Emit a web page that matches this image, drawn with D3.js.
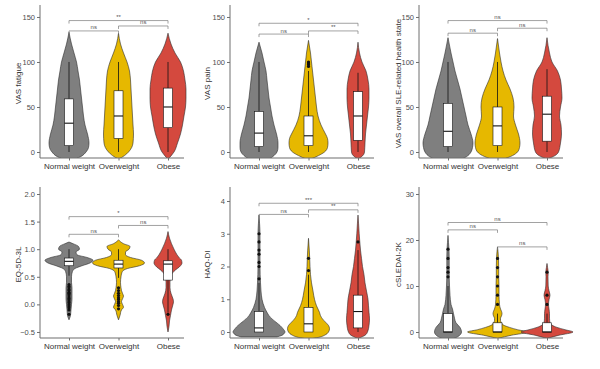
<!DOCTYPE html>
<html><head><meta charset="utf-8">
<script src="https://cdn.jsdelivr.net/npm/d3@7"></script>
<style>
html,body{margin:0;padding:0;background:#fff;}
svg{display:block;font-family:"Liberation Sans",Arial,sans-serif;}
</style></head>
<body><svg id="chart" width="600" height="369"></svg>
<script>
// ---------------- DATA ----------------
const categories = ["Normal weight", "Overweight", "Obese"];
const groupColors = ["#7f7f7f", "#E6B800", "#D4493E"];

// boxes: [lowerWhisker, q1, median, q3, upperWhisker]
// violins: [value, relative density] profiles
// brackets: [fromIndex, toIndex, level, label]

// VAS fatigue
const fatigueTicks = [0, 50, 100, 150];
const fatigueBoxes = [[0, 7, 32, 59, 100], [0, 15, 40, 68, 100], [0, 27, 50, 71, 100]];
const fatigueViolins = [
  [[-8,6],[-5,12],[0,17],[5,19.5],[10,20],[20,18.5],[30,16],[40,14.5],[50,13.5],[60,12.5],[70,11.5],[80,10.5],[90,9],[100,7.5],[110,5],[120,2.5],[133,0]],
  [[-8,0],[-4,6],[0,10],[10,14.5],[20,15],[30,14.5],[40,14],[50,13.5],[60,13],[70,12.5],[80,12],[90,11],[100,8.5],[110,5],[120,2],[132,0]],
  [[-8,0],[-3,4],[0,6],[10,9.5],[20,12.5],[30,14.5],[40,16],[50,17.5],[60,18],[70,18],[80,17],[90,15.5],[100,12.5],[110,7],[120,3],[132,0]]
];
const fatigueOutliers = [[], [], []];
const fatigueBrackets = [[0, 2, 146, "**"], [0, 1, 134.5, "ns"], [1, 2, 140, "ns"]];

// VAS pain
const painTicks = [0, 50, 100, 150];
const painBoxes = [[0, 6, 21, 45, 100], [0, 7, 18, 40, 90], [0, 13, 40, 67, 88]];
const painViolins = [
  [[-8,10],[-4,15],[0,18],[5,19],[10,19],[20,17.5],[30,15],[40,13],[50,11.5],[60,10],[70,9],[80,8],[90,7],[100,5],[110,3],[122,0]],
  [[-8,2],[-4,10],[0,16],[5,19],[10,19.5],[15,19],[20,17],[30,12.5],[40,9.5],[50,8],[60,7],[70,6],[80,5],[90,4],[95,3.5],[100,3],[110,2],[124,0]],
  [[-8,0],[-3,5.5],[0,6.5],[10,7],[20,7.5],[30,8.5],[40,9.5],[50,10.5],[60,11],[70,11],[80,10],[90,8],[100,4],[110,1.5],[122,0]]
];
const painOutliers = [[], [95, 97, 99, 100], []];
const painBrackets = [[0, 2, 143, "*"], [0, 1, 131, "ns"], [1, 2, 134.5, "**"]];

// VAS overall SLE-related health state
const overallTicks = [0, 50, 100, 150];
const overallBoxes = [[0, 6, 23, 54, 100], [0, 7, 29, 50, 100], [0, 12, 42, 62, 92]];
const overallViolins = [
  [[-8,14],[-4,20],[0,23],[5,24.5],[10,25],[20,23],[30,20],[40,18],[50,16],[60,14],[70,12],[80,9.5],[90,7],[100,5],[110,3],[127,0]],
  [[-8,6],[-4,15],[0,20],[5,22],[10,22.5],[20,21],[30,18],[40,16],[50,16.5],[60,15.5],[70,12.5],[80,8.5],[90,5.5],[100,3.5],[110,2],[126,0]],
  [[-8,0],[-4,8],[0,11.5],[10,13.5],[20,14.5],[30,14],[40,12.5],[50,13.5],[60,15],[70,14.5],[80,13.5],[90,10.5],[100,5],[110,2.5],[127,0]]
];
const overallOutliers = [[], [], []];
const overallBrackets = [[0, 2, 146, "ns"], [0, 1, 132, "ns"], [1, 2, 137.5, "ns"]];

// EQ-5D-3L
const eqTicks = [-0.5, 0.0, 0.5, 1.0, 1.5, 2.0];
const eqBoxes = [[0.52, 0.70, 0.78, 0.84, 1.0], [0.48, 0.66, 0.73, 0.80, 1.0], [-0.15, 0.44, 0.73, 0.79, 1.0]];
const eqViolins = [
  [[-0.28,0],[-0.2,1.5],[-0.1,2],[0,2.5],[0.1,3],[0.2,3],[0.3,3],[0.4,2.5],[0.5,2.5],[0.6,3.5],[0.65,6],[0.7,13],[0.75,21],[0.8,24],[0.85,18],[0.9,8],[0.95,7],[1.0,10.5],[1.05,9.5],[1.1,4],[1.13,0]],
  [[-0.28,0],[-0.2,1.5],[-0.1,3],[-0.05,5],[0,4],[0.05,3],[0.1,4],[0.15,5],[0.2,4],[0.25,3],[0.3,2.5],[0.4,2],[0.5,2.5],[0.6,4],[0.65,9],[0.7,21],[0.75,26],[0.8,23],[0.85,12],[0.9,7],[0.95,7],[1.0,10.5],[1.05,11.5],[1.1,5],[1.17,0]],
  [[-0.5,0],[-0.4,1],[-0.3,1.5],[-0.2,2.5],[-0.1,3.5],[0,5],[0.05,5.5],[0.1,5],[0.15,4],[0.2,3],[0.3,2],[0.4,2],[0.5,2.5],[0.6,6],[0.7,12.5],[0.75,14],[0.8,13.5],[0.85,11],[0.9,9],[1.0,6],[1.1,3.5],[1.2,1.5],[1.32,0]]
];
const eqOutliers = [
  [0.36, 0.33, 0.30, 0.27, 0.25, 0.22, 0.20, 0.18, 0.15, 0.12, 0.10, 0.08, 0.05, 0.03, 0.0, -0.03, -0.06, -0.1, -0.18],
  [0.30, 0.25, 0.20, 0.16, 0.12, 0.09, 0.05, 0.02, -0.02, -0.08],
  [-0.18]
];
const eqBrackets = [[0, 2, 1.59, "*"], [0, 1, 1.27, "ns"], [1, 2, 1.43, "ns"]];

// HAQ-DI
const haqTicks = [0, 1, 2, 3, 4];
const haqBoxes = [[0, 0, 0.125, 0.625, 1.5], [0, 0, 0.25, 0.75, 1.75], [0, 0.125, 0.625, 1.125, 2.5]];
const haqViolins = [
  [[-0.15,18],[-0.1,23],[-0.05,25],[0,26],[0.1,24],[0.2,21],[0.3,17],[0.4,13],[0.5,10],[0.6,8],[0.75,5.5],[1.0,3],[1.25,2],[1.5,1.5],[2.0,1],[2.5,1],[3.0,1],[3.3,0.6],[3.57,0]],
  [[-0.2,4],[-0.15,12],[-0.1,16],[0,20],[0.1,21],[0.2,20],[0.3,17],[0.4,14],[0.5,12],[0.6,11],[0.8,8],[1.0,6],[1.25,4.5],[1.5,3],[1.75,2],[2.0,1.5],[2.25,1.2],[2.5,0.8],[2.86,0]],
  [[-0.2,0],[-0.1,7],[0,9.5],[0.2,11],[0.4,11.5],[0.6,11],[0.8,10.5],[1.0,10],[1.25,8.5],[1.5,7],[1.75,6],[2.0,4.5],[2.25,3.5],[2.5,2.5],[2.75,1.8],[3.0,1.2],[3.3,0.6],[3.57,0]]
];
const haqOutliers = [[1.625, 2.0, 2.125, 2.375, 2.5, 2.75, 3.0], [1.875, 2.25], [2.75]];
const haqBrackets = [[0, 2, 3.93, "***"], [0, 1, 3.59, "ns"], [1, 2, 3.73, "**"]];

// cSLEDAI-2K
const sledaiTicks = [0, 10, 20, 30];
const sledaiBoxes = [[0, 0, 0, 4, 10], [0, 0, 0, 2, 4], [0, 0, 0, 2, 4]];
const sledaiViolins = [
  [[-1.4,6],[-1,10],[0,13.5],[1,12],[2,8],[3,6.5],[4,5.5],[5,4.5],[6,3],[8,2],[10,1.5],[12,1.2],[14,1.2],[16,1.2],[18,1],[19.5,0.5],[21,0]],
  [[-1.4,0],[-0.7,14],[0,30],[0.5,20],[1,12],[1.5,6],[2,4],[2.5,3],[3,3],[3.5,4],[4,4.5],[4.5,4],[5,3],[6,2],[8,1.5],[10,1.5],[12,1.2],[14,1.2],[16,1],[17.5,0.5],[18.5,0]],
  [[-1.4,0],[-0.7,12],[0,26],[0.5,18],[1,10],[1.5,5],[2,3],[3,2.5],[4,2.5],[5,2],[6,1.5],[7,2],[8,3],[9,2],[10,1.2],[12,1],[13,1.2],[14,0.6],[14.9,0]]
];
const sledaiOutliers = [[12, 13, 14, 16, 18], [6, 8, 10, 12, 14, 16], [6, 8, 13]];
const sledaiBrackets = [[0, 2, 23.8, "ns"], [0, 1, 22.2, "ns"], [1, 2, 18.5, "ns"]];

// ---------------- LAYOUT ----------------
const panels = [
  {title: "VAS fatigue", ticks: fatigueTicks, fmt: d3.format("d"), boxes: fatigueBoxes, violins: fatigueViolins, outliers: fatigueOutliers, brackets: fatigueBrackets,
   ax: 40, top: 5, bottom: 158, dom: [-6.67, 163.3], titleX: 18},
  {title: "VAS pain", ticks: painTicks, fmt: d3.format("d"), boxes: painBoxes, violins: painViolins, outliers: painOutliers, brackets: painBrackets,
   ax: 230, top: 5, bottom: 158, dom: [-6.67, 163.3], titleX: 207},
  {title: "VAS overall SLE-related health state", ticks: overallTicks, fmt: d3.format("d"), boxes: overallBoxes, violins: overallViolins, outliers: overallOutliers, brackets: overallBrackets,
   ax: 419, top: 5, bottom: 158, dom: [-6.67, 163.3], titleX: 398},
  {title: "EQ-5D-3L", ticks: eqTicks, fmt: d => (d < 0 ? "\u2212" : "") + Math.abs(d).toFixed(1), boxes: eqBoxes, violins: eqViolins, outliers: eqOutliers, brackets: eqBrackets,
   ax: 40, top: 187, bottom: 338, dom: [-0.609, 2.127], titleX: 18},
  {title: "HAQ-DI", ticks: haqTicks, fmt: d3.format("d"), boxes: haqBoxes, violins: haqViolins, outliers: haqOutliers, brackets: haqBrackets,
   ax: 230, top: 187, bottom: 338, dom: [-0.183, 4.427], titleX: 207},
  {title: "cSLEDAI-2K", ticks: sledaiTicks, fmt: d3.format("d"), boxes: sledaiBoxes, violins: sledaiViolins, outliers: sledaiOutliers, brackets: sledaiBrackets,
   ax: 419, top: 187, bottom: 338, dom: [-1.304, 31.52], titleX: 398}
];

const svg = d3.select("#chart");
const wScale = d3.scaleLinear().domain([0, 30]).range([0, 30]);
const boxW = 9;

panels.forEach((p, pi) => {
  const g = svg.append("g");
  const x = d3.scalePoint().domain(categories).range([p.ax + 29, p.ax + 128]);
  const y = d3.scaleLinear().domain(p.dom).range([p.bottom, p.top]);

  const clipId = "clip" + pi;
  g.append("clipPath").attr("id", clipId).append("rect")
    .attr("x", p.ax + 1).attr("y", p.top - 3).attr("width", 160).attr("height", p.bottom - p.top + 3);
  const plot = g.append("g").attr("clip-path", `url(#${clipId})`);

  // violins
  categories.forEach((c, i) => {
    const cx = x(c);
    const area = d3.area()
      .y(d => y(d[0]))
      .x0(d => cx - wScale(d[1]))
      .x1(d => cx + wScale(d[1]))
      .curve(d3.curveMonotoneY);
    plot.append("path").datum(p.violins[i])
      .attr("d", area)
      .attr("fill", groupColors[i])
      .attr("stroke", "#2b2b2b").attr("stroke-width", 0.6);
  });

  // boxes
  categories.forEach((c, i) => {
    const cx = x(c);
    const [lo, q1, med, q3, hi] = p.boxes[i];
    plot.append("line").attr("x1", cx).attr("x2", cx).attr("y1", y(hi)).attr("y2", y(q3))
      .attr("stroke", "#111").attr("stroke-width", 0.8);
    plot.append("line").attr("x1", cx).attr("x2", cx).attr("y1", y(q1)).attr("y2", y(lo))
      .attr("stroke", "#111").attr("stroke-width", 0.8);
    plot.append("rect").attr("x", cx - boxW / 2).attr("width", boxW)
      .attr("y", y(q3)).attr("height", Math.max(0.5, y(q1) - y(q3)))
      .attr("fill", "#fff").attr("stroke", "#111").attr("stroke-width", 0.6);
    plot.append("line").attr("x1", cx - boxW / 2).attr("x2", cx + boxW / 2).attr("y1", y(med)).attr("y2", y(med))
      .attr("stroke", "#111").attr("stroke-width", 1.1);
    plot.selectAll(null).data(p.outliers[i]).enter().append("circle")
      .attr("cx", cx).attr("cy", d => y(d)).attr("r", 1.6).attr("fill", "#111");
  });

  // y axis
  const yAxis = d3.axisLeft(y).tickValues(p.ticks).tickFormat(p.fmt).tickSize(3).tickPadding(2);
  const ya = g.append("g").attr("transform", `translate(${p.ax},0)`).call(yAxis);
  ya.select(".domain").attr("d", `M0,${p.top}V${p.bottom}`).attr("stroke", "#6e6e6e").attr("stroke-width", 1);
  ya.selectAll(".tick line").attr("stroke", "#6e6e6e");
  ya.selectAll(".tick text").attr("fill", "#4d4d4d").style("font-size", "7.5px").style("font-family", "Liberation Sans, Arial, sans-serif");

  // x axis
  const xAxis = d3.axisBottom(x).tickSize(2.5).tickPadding(3);
  const xa = g.append("g").attr("transform", `translate(0,${p.bottom})`).call(xAxis);
  xa.select(".domain").attr("d", `M${p.ax},0H${p.ax + 144}`).attr("stroke", "#6e6e6e").attr("stroke-width", 1.2);
  xa.selectAll(".tick line").attr("stroke", "#6e6e6e");
  xa.selectAll(".tick text").attr("fill", "#333").style("font-size", "8px").style("font-family", "Liberation Sans, Arial, sans-serif");

  // y title
  g.append("text")
    .attr("transform", `translate(${p.titleX},${(p.top + p.bottom) / 2 + 2}) rotate(-90)`)
    .attr("text-anchor", "middle").attr("dy", "0.35em")
    .style("font-size", "8px").attr("fill", "#333").text(p.title);

  // brackets
  p.brackets.forEach(([a, b, lvl, lab]) => {
    const x1 = x(categories[a]), x2 = x(categories[b]), yy = y(lvl);
    g.append("path").attr("d", `M${x1},${yy + 3}V${yy}H${x2}V${yy + 3}`)
      .attr("fill", "none").attr("stroke", "#7a7a7a").attr("stroke-width", 0.7);
    g.append("text").attr("x", (x1 + x2) / 2).attr("y", yy - 1.5).attr("text-anchor", "middle")
      .style("font-size", "6px").attr("fill", "#555").text(lab);
  });
});
</script>
</body></html>
